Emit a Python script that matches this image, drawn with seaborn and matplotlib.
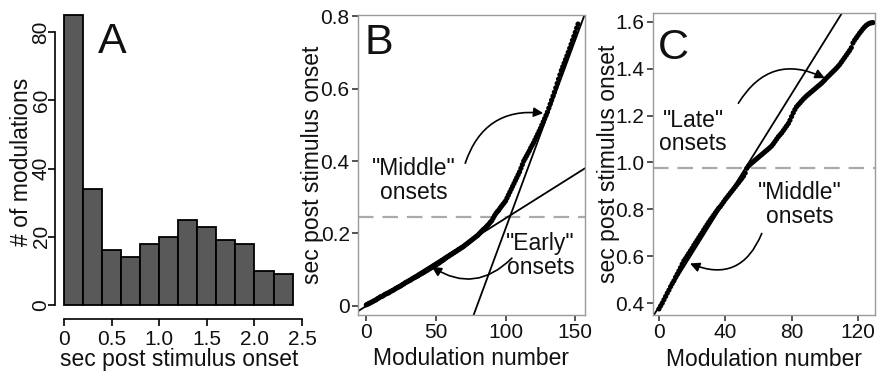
import numpy as np
import pandas as pd
import seaborn as sns
import matplotlib.pyplot as plt

# Panel A: histogram of onset times
hist_edges = [0.0, 0.2, 0.4, 0.6, 0.8, 1.0, 1.2, 1.4, 1.6, 1.8, 2.0, 2.2, 2.4]
hist_counts = [85, 34, 16, 14, 18, 20, 25, 23, 19, 18, 10, 9]

# Panel B: sorted onsets (sec), one per modulation
onsets_b = [
    0.003, 0.005, 0.007, 0.009, 0.011, 0.013, 0.015, 0.017, 0.020, 0.022,
    0.025, 0.026, 0.028, 0.031, 0.033, 0.035, 0.036, 0.039, 0.041, 0.043,
    0.045, 0.048, 0.050, 0.052, 0.054, 0.056, 0.059, 0.061, 0.064, 0.066,
    0.068, 0.070, 0.072, 0.075, 0.077, 0.079, 0.081, 0.083, 0.086, 0.088,
    0.090, 0.092, 0.095, 0.097, 0.099, 0.102, 0.104, 0.106, 0.109, 0.111,
    0.113, 0.116, 0.118, 0.121, 0.124, 0.126, 0.129, 0.132, 0.135, 0.137,
    0.140, 0.142, 0.145, 0.147, 0.150, 0.152, 0.155, 0.157, 0.160, 0.162,
    0.165, 0.168, 0.171, 0.174, 0.177, 0.180, 0.183, 0.186, 0.189, 0.192,
    0.195, 0.199, 0.203, 0.207, 0.211, 0.214, 0.218, 0.222, 0.226, 0.231,
    0.235, 0.242, 0.249, 0.255, 0.260, 0.264, 0.270, 0.275, 0.280, 0.285,
    0.290, 0.298, 0.306, 0.314, 0.322, 0.330, 0.338, 0.346, 0.354, 0.362,
    0.370, 0.380, 0.390, 0.400, 0.407, 0.414, 0.421, 0.428, 0.436, 0.443,
    0.450, 0.458, 0.466, 0.474, 0.482, 0.490, 0.499, 0.508, 0.517, 0.526,
    0.535, 0.546, 0.557, 0.568, 0.579, 0.590, 0.602, 0.614, 0.626, 0.638,
    0.650, 0.660, 0.670, 0.680, 0.690, 0.700, 0.711, 0.722, 0.733, 0.744,
    0.755, 0.767, 0.778,
]
fit_b_early = (0.0, 0.00242)      # intercept, slope
fit_b_middle = (-0.826, 0.0104)
threshold_b = 0.245

# Panel C: sorted onsets (sec)
onsets_c = [
    0.375, 0.388, 0.400, 0.414, 0.428, 0.442, 0.455, 0.470, 0.483, 0.495,
    0.510, 0.523, 0.537, 0.551, 0.566, 0.580, 0.590, 0.601, 0.612, 0.623,
    0.634, 0.646, 0.657, 0.668, 0.679, 0.690, 0.700, 0.712, 0.723, 0.734,
    0.745, 0.755, 0.765, 0.775, 0.785, 0.795, 0.805, 0.812, 0.822, 0.832,
    0.842, 0.851, 0.860, 0.869, 0.878, 0.887, 0.896, 0.905, 0.914, 0.923,
    0.932, 0.942, 0.955, 0.975, 0.985, 0.992, 0.998, 1.004, 1.010, 1.016,
    1.022, 1.028, 1.034, 1.040, 1.046, 1.052, 1.058, 1.064, 1.071, 1.080,
    1.090, 1.100, 1.110, 1.118, 1.126, 1.136, 1.146, 1.156, 1.166, 1.180,
    1.196, 1.212, 1.226, 1.238, 1.246, 1.254, 1.262, 1.270, 1.277, 1.284,
    1.290, 1.296, 1.302, 1.308, 1.314, 1.320, 1.326, 1.332, 1.338, 1.345,
    1.352, 1.360, 1.367, 1.374, 1.381, 1.388, 1.395, 1.402, 1.410, 1.418,
    1.428, 1.438, 1.448, 1.458, 1.468, 1.478, 1.490, 1.510, 1.522, 1.532,
    1.542, 1.552, 1.561, 1.570, 1.578, 1.585, 1.590, 1.594, 1.596, 1.597,
]
fit_c = (0.384, 0.01136)
threshold_c = 0.975

sns.set_theme(style="white")
plt.rcParams['font.family'] = ['Liberation Sans', 'DejaVu Sans']
plt.rcParams['text.color'] = '#111111'
plt.rcParams['axes.labelcolor'] = '#111111'
plt.rcParams['xtick.labelcolor'] = '#111111'
plt.rcParams['ytick.labelcolor'] = '#111111'

TICK = 15
LABEL = 16.5
NOTE = 16.5
LETTER = 31

fig = plt.figure(figsize=(8.87, 3.71), dpi=100)
ax_a = fig.add_axes([55 / 887, 52 / 371, 249 / 887, 315 / 371])
ax_b = fig.add_axes([358 / 887, 56 / 371, 227 / 887, 300 / 371])
ax_c = fig.add_axes([653 / 887, 56 / 371, 222 / 887, 302 / 371])

# ---- A ----
mids = np.array(hist_edges[:-1]) + 0.1
sns.histplot(x=mids, weights=hist_counts, bins=hist_edges, ax=ax_a,
             color='#595959', edgecolor='black', linewidth=1.3, alpha=1)
ax_a.set_xlim(-0.095, 2.52)
ax_a.set_ylim(-4.1, 88.3)
for s in ['top', 'right']:
    ax_a.spines[s].set_visible(False)
ax_a.spines['left'].set_bounds(0, 80)
ax_a.spines['bottom'].set_bounds(0, 2.5)
for s in ['left', 'bottom']:
    ax_a.spines[s].set_color('black')
    ax_a.spines[s].set_linewidth(1.2)
ax_a.set_xticks([0, 0.5, 1.0, 1.5, 2.0, 2.5])
ax_a.set_xticklabels(['0', '0.5', '1.0', '1.5', '2.0', '2.5'])
ax_a.set_yticks([0, 20, 40, 60, 80])
ax_a.set_yticklabels(['0', '20', '40', '60', '80'], rotation=90,
                     va='center', ha='center')
ax_a.tick_params(axis='x', length=5, width=1.2, color='black',
                 labelsize=TICK, pad=3, bottom=True)
ax_a.tick_params(axis='y', length=5, width=1.2, color='black',
                 labelsize=TICK, pad=5, left=True)
ax_a.set_xlabel('sec post stimulus onset', fontsize=LABEL)
ax_a.set_ylabel('# of modulations', fontsize=LABEL)
ax_a.xaxis.set_label_coords(0.5, -0.093)
ax_a.yaxis.set_label_coords(-0.09, 0.5)
ax_a.text(0.23, 0.88, 'A', transform=ax_a.transAxes, fontsize=LETTER,
          ha='center', va='center')


def onset_panel(ax, onsets, fits, thresh):
    df = pd.DataFrame({'n': np.arange(len(onsets)), 'onset': onsets})
    ax.axhline(thresh, color='#aaaaaa', lw=1.6, dashes=(7, 4), zorder=1)
    for b0, b1 in fits:
        ax.axline((0, b0), slope=b1, color='black', lw=1.3, zorder=2)
    sns.scatterplot(data=df, x='n', y='onset', ax=ax, color='black', s=14,
                    edgecolor='none', zorder=3)
    for s in ax.spines.values():
        s.set_color('#9a9a9a')
        s.set_linewidth(1.0)
    ax.tick_params(axis='both', length=4, width=1.3, color='#444444',
                   labelsize=TICK, pad=2, left=True, bottom=True)
    ax.set_xlabel('Modulation number', fontsize=LABEL)
    ax.set_ylabel('sec post stimulus onset', fontsize=LABEL)
    ax.xaxis.set_label_coords(0.5, -0.108)
    ax.yaxis.set_label_coords(-0.148, 0.5)


arrow = dict(arrowstyle='-|>', color='black', lw=1.2, mutation_scale=14,
             shrinkA=0, shrinkB=0)
txt = dict(fontsize=NOTE, ha='center', va='center', linespacing=1.05)

# ---- B ----
onset_panel(ax_b, onsets_b, [fit_b_early, fit_b_middle], threshold_b)
ax_b.set_xlim(-6, 157)
ax_b.set_ylim(-0.025, 0.803)
ax_b.set_xticks([0, 50, 100, 150])
ax_b.set_yticks([0, 0.2, 0.4, 0.6, 0.8])
ax_b.set_yticklabels(['0', '0.2', '0.4', '0.6', '0.8'])
ax_b.text(0.09, 0.905, 'B', transform=ax_b.transAxes, fontsize=LETTER,
          ha='center', va='center')
ax_b.text(34, 0.345, '"Middle"\nonsets', **txt)
ax_b.text(125, 0.14, '"Early"\nonsets', **txt)
ax_b.annotate('', xy=(127, 0.532), xytext=(71, 0.394),
              arrowprops=dict(connectionstyle='arc3,rad=-0.4', **arrow))
ax_b.annotate('', xy=(47, 0.108), xytext=(104.5, 0.132),
              arrowprops=dict(connectionstyle='arc3,rad=-0.4', **arrow))

# ---- C ----
onset_panel(ax_c, onsets_c, [fit_c], threshold_c)
ax_c.set_xlim(-3.6, 130.3)
ax_c.set_ylim(0.349, 1.638)
ax_c.set_xticks([0, 40, 80, 120])
ax_c.set_yticks([0.4, 0.6, 0.8, 1.0, 1.2, 1.4, 1.6])
ax_c.set_yticklabels(['0.4', '0.6', '0.8', '1.0', '1.2', '1.4', '1.6'])
ax_c.text(0.09, 0.885, 'C', transform=ax_c.transAxes, fontsize=LETTER,
          ha='center', va='center')
ax_c.text(20.5, 1.13, '"Late"\nonsets', **txt)
ax_c.text(85, 0.822, '"Middle"\nonsets', **txt)
ax_c.annotate('', xy=(100, 1.36), xytext=(47.9, 1.253),
              arrowprops=dict(connectionstyle='arc3,rad=-0.45', **arrow))
ax_c.annotate('', xy=(18.7, 0.569), xytext=(62, 0.697),
              arrowprops=dict(connectionstyle='arc3,rad=-0.5', **arrow))

fig.savefig('out.png', dpi=100)
